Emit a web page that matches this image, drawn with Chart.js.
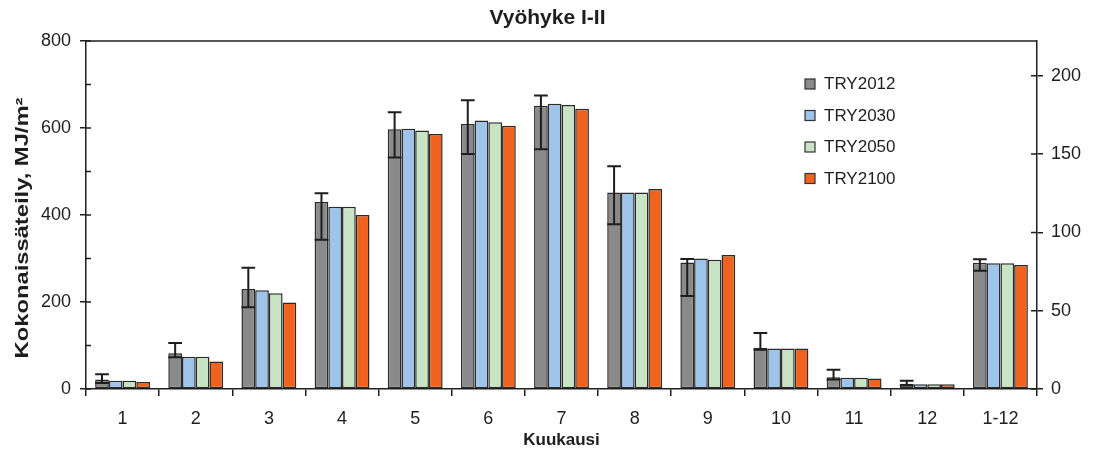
<!DOCTYPE html>
<html>
<head>
<meta charset="utf-8">
<script src="https://cdn.jsdelivr.net/npm/chart.js@4/dist/chart.umd.min.js"></script>
<style>
  html, body { margin: 0; padding: 0; background: #fff; }
  #wrap { width: 1095px; height: 451px; position: relative; }
</style>
</head>
<body>
<div id="wrap"><canvas id="c"></canvas></div>
<script>
// Monthly global radiation by test reference year, zone I-II (MJ/m²)
const months = ['1', '2', '3', '4', '5', '6', '7', '8', '9', '10', '11', '12', '1-12'];
const try2012 = [22, 82, 230, 430, 597, 609, 651, 452, 291, 94, 27, 12, 290];
const try2030 = [19, 74, 227, 419, 598, 617, 656, 452, 300, 93, 26, 11, 289];
const try2050 = [19, 74, 220, 419, 594, 613, 653, 452, 297, 93, 26, 11, 289];
const try2100 = [16, 63, 199, 400, 586, 605, 644, 460, 308, 93, 24, 11, 285];
// Spread of the TRY2012 source years (low / high)
const err2012Low  = [14, 73, 188, 343, 532, 540, 551, 379, 214, 90, 22, 8, 272];
const err2012High = [34, 106, 279, 450, 636, 664, 675, 512, 299, 129, 44, 19, 298];
const seriesNames = ['TRY2012', 'TRY2030', 'TRY2050', 'TRY2100'];
const seriesColors = ['#8a8a8a', '#9fc4ea', '#c9e4c5', '#f0631f'];
// Right axis: the same quantity in kWh/m² (1 kWh = 3.6 MJ)
const leftMax = 800;
const MJ_PER_KWH = 3.6;
const yTitle = 'Kokonaissäteily, MJ/m²';

const FONT = '"Liberation Sans", Arial, sans-serif';
const INK = '#1e1e1e';

// Error bars on the TRY2012 bars, drawn through the chart's own scales
const errorBars = {
  id: 'errorBars',
  afterDatasetsDraw(chart) {
    const meta = chart.getDatasetMeta(0);
    const y = chart.scales.y;
    const ctx = chart.ctx;
    ctx.save();
    ctx.strokeStyle = INK;
    ctx.lineWidth = 2;
    meta.data.forEach((bar, i) => {
      const x = bar.x;
      const half = bar.width / 2;
      const yl = y.getPixelForValue(err2012Low[i]);
      const yh = y.getPixelForValue(err2012High[i]);
      ctx.beginPath();
      ctx.moveTo(x, yl); ctx.lineTo(x, yh);
      ctx.moveTo(x - half, yh); ctx.lineTo(x + half, yh);
      ctx.moveTo(x - half, yl); ctx.lineTo(x + half, yl);
      ctx.stroke();
    });
    ctx.restore();
  }
};

// Frame top edge, inner tick marks, left axis title and the legend box
const frameAndLegend = {
  id: 'frameAndLegend',
  afterDraw(chart) {
    const ctx = chart.ctx;
    const a = chart.chartArea;
    ctx.save();
    ctx.strokeStyle = INK;
    ctx.lineWidth = 1.5;
    ctx.beginPath();
    ctx.moveTo(a.left, a.top); ctx.lineTo(a.right, a.top);
    ctx.stroke();
    // inner ticks, left axis
    const yl = chart.scales.y;
    ctx.beginPath();
    yl.ticks.forEach(t => {
      const py = yl.getPixelForValue(t.value);
      ctx.moveTo(a.left, py); ctx.lineTo(a.left + 5, py);
    });
    // inner ticks, right axis
    const yr = chart.scales.y2;
    yr.ticks.forEach(t => {
      const py = yr.getPixelForValue(t.value);
      ctx.moveTo(a.right, py); ctx.lineTo(a.right - 6, py);
    });
    ctx.stroke();

    // left axis title, set a little wide along its run
    ctx.save();
    ctx.translate(23, 228);
    ctx.rotate(-Math.PI / 2);
    ctx.scale(1.32, 1);
    ctx.font = 'bold 18px ' + FONT;
    ctx.fillStyle = INK;
    ctx.textAlign = 'center';
    ctx.textBaseline = 'middle';
    ctx.fillText(yTitle, 0, 0);
    ctx.restore();

    // legend
    const lx = 805, ly = 79, step = 31.5;
    ctx.font = '17px ' + FONT;
    ctx.textBaseline = 'middle';
    ctx.textAlign = 'left';
    chart.data.datasets.forEach((ds, i) => {
      const yy = ly + i * step;
      ctx.fillStyle = ds.backgroundColor;
      ctx.fillRect(lx, yy, 10, 10);
      ctx.lineWidth = 1.2;
      ctx.strokeStyle = '#333';
      ctx.strokeRect(lx, yy, 10, 10);
      ctx.fillStyle = INK;
      ctx.fillText(ds.label, lx + 19, yy + 5.5);
    });
    ctx.restore();
  }
};

const seriesData = [try2012, try2030, try2050, try2100];

new Chart(document.getElementById('c'), {
  type: 'bar',
  data: {
    labels: months,
    datasets: seriesData.map((d, i) => ({
      label: seriesNames[i],
      data: d,
      backgroundColor: seriesColors[i],
      borderColor: '#2a2a2a',
      borderWidth: 1.5,
      borderSkipped: false,
      categoryPercentage: 0.75,
      barPercentage: 1.0,
      yAxisID: 'y'
    }))
  },
  options: {
    responsive: true,
    maintainAspectRatio: false,
    animation: false,
    layout: { padding: 0 },
    plugins: {
      legend: { display: false },
      tooltip: { enabled: false },
      title: {
        display: true,
        text: 'Vyöhyke I-II',
        color: INK,
        font: { family: FONT, size: 21, weight: 'bold', lineHeight: 1.2 },
        padding: { top: 6, bottom: 9.8 }
      }
    },
    scales: {
      x: {
        offset: true,
        grid: {
          offset: true,
          drawOnChartArea: false,
          drawTicks: true,
          tickLength: 7,
          color: INK,
          lineWidth: 1.5
        },
        border: { display: true, color: INK, width: 1.5 },
        ticks: {
          color: INK,
          padding: 12,
          font: { family: FONT, size: 18 }
        },
        title: {
          display: true,
          text: 'Kuukausi',
          color: INK,
          font: { family: FONT, size: 17, weight: 'bold' },
          padding: 0
        },
        afterFit(scale) { scale.height = 62; }
      },
      y: {
        position: 'left',
        min: 0,
        max: leftMax,
        grid: {
          drawOnChartArea: false,
          drawTicks: true,
          tickLength: 6,
          lineWidth: 1.5,
          color: ctx => (ctx.tick && ctx.tick.value % 200 === 0) ? INK : 'rgba(0,0,0,0)'
        },
        border: { display: true, color: INK, width: 1.5 },
        ticks: {
          stepSize: 100,
          color: INK,
          padding: 9,
          font: { family: FONT, size: 18 },
          callback: v => (v % 200 === 0 ? String(v) : '')
        },
        title: { display: false },
        afterFit(scale) { scale.width = 86; }
      },
      y2: {
        position: 'right',
        min: 0,
        max: leftMax / MJ_PER_KWH,
        grid: {
          drawOnChartArea: false,
          drawTicks: true,
          tickLength: 6,
          lineWidth: 1.5,
          color: INK
        },
        border: { display: true, color: INK, width: 1.5 },
        ticks: {
          stepSize: 50,
          includeBounds: false,
          color: INK,
          padding: 8,
          font: { family: FONT, size: 18 }
        },
        afterFit(scale) { scale.width = 58; }
      }
    }
  },
  plugins: [errorBars, frameAndLegend]
});
</script>
</body>
</html>
